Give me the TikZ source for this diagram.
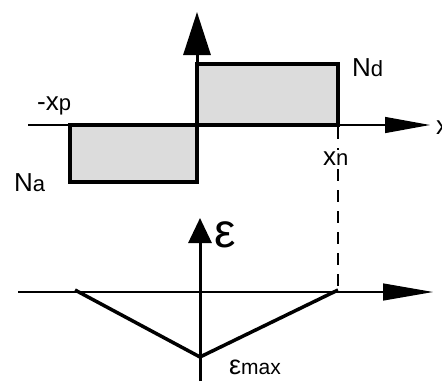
\documentclass[tikz,border=0pt]{standalone}
\usepackage{fontspec}
\setmainfont{Liberation Sans}
\usetikzlibrary{arrows.meta}
\definecolor{boxfill}{RGB}{220,220,220}
\begin{document}
\begin{tikzpicture}[x=1pt,y=-1pt,
  lbl/.style={inner sep=0pt, font=\fontsize{26}{26}\selectfont},
  small/.style={inner sep=0pt, font=\fontsize{21}{21}\selectfont},
  box/.style={draw=black, line width=3.5pt, fill=boxfill},
  hax/.style={line width=1.3pt},
  vax/.style={line width=3pt},
  vee/.style={line width=3.5pt, line join=miter},
  guide/.style={line width=1.5pt, dash pattern=on 12pt off 9pt}]
\useasboundingbox (0,0) rectangle (442,381);
% top graph
\draw[box] (197,64) rectangle (338,125);
\draw[box] (70,125) rectangle (197,182);
\coordinate (hl) at (28,125);
\coordinate (hr) at (430,125);
\coordinate (vb) at (197,183);
\coordinate (vt) at (197,12);
\draw[hax, -{Triangle[length=45pt,width=16pt]}] (hl) -- (hr);
\draw[vax, -{Triangle[length=43pt,width=27pt]}] (vb) -- (vt);
% dashed guide
\coordinate (gt) at (338,127);
\coordinate (gb) at (338,290);
\draw[guide] (gt) -- (gb);
% labels top
\node[lbl, anchor=base west] (nd) at (352,76) {N\fontsize{22}{22}\selectfont d};
\node[lbl, anchor=base west] (xp) at (37,110) {-x\fontsize{22}{22}\selectfont p};
\node[lbl, anchor=base west] (na) at (14,191) {N\fontsize{22}{22}\selectfont a};
\node[lbl, anchor=base west, fill=white, inner sep=1pt] (xn) at (322,165) {x\fontsize{22}{22}\selectfont n};
\node[lbl, anchor=base west] (xl) at (436,134) {x};
% bottom graph
\coordinate (bl) at (18,292);
\coordinate (br) at (433,292);
\coordinate (bb) at (200,381);
\coordinate (bt) at (200,218);
\draw[hax, -{Triangle[length=50pt,width=17pt]}] (bl) -- (br);
\draw[vax, -{Triangle[length=25pt,width=23pt]}] (bb) -- (bt);
\coordinate (v1) at (75,290);
\coordinate (v2) at (200,357);
\coordinate (v3) at (338,290);
\draw[vee] (v1) -- (v2) -- (v3);
\node[inner sep=0pt, anchor=base west, font=\fontsize{48}{48}\selectfont] (eps) at (214,247) {ε};
\node[small, anchor=base west] (emax) at (229,374) {{\fontsize{27}{27}\selectfont ε}max};
\end{tikzpicture}
\end{document}
